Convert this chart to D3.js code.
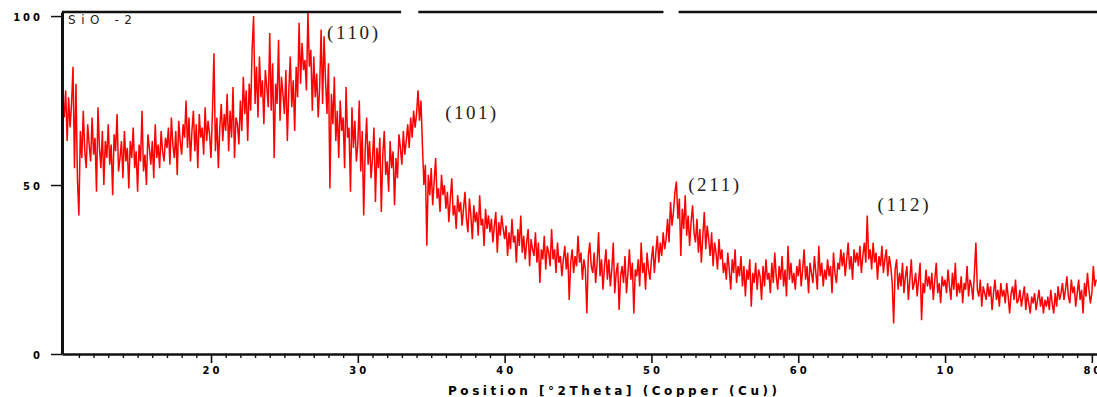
<!DOCTYPE html>
<html>
<head>
<meta charset="utf-8">
<script src="https://cdn.jsdelivr.net/npm/d3@7"></script>
<style>
  body { margin: 0; background: #fff; }
  svg { display: block; }
</style>
</head>
<body>
<svg id="chart" width="1097" height="397"></svg>
<script>
// XRD scan of SiO2 sample: intensity (counts, %) every 0.1 deg 2Theta, starting at 10.0
const startAngle = 10.0;
const stepAngle = 0.1;
const intensity = [
  70, 78, 63, 76, 67, 74, 85, 55, 80, 52,   // 10
  41, 66, 58, 72, 60, 55, 68, 62, 57, 70,   // 11
  59, 64, 48, 73, 61, 55, 66, 50, 63, 58,   // 12
  68, 56, 62, 47, 65, 60, 71, 54, 58, 63,   // 13
  52, 66, 57, 61, 49, 63, 58, 67, 55, 60,   // 14
  48, 62, 57, 72, 54, 59, 50, 65, 61, 56,   // 15
  63, 52, 68, 58, 62, 55, 66, 60, 57, 64,   // 16
  61, 67, 56, 70, 62, 58, 66, 53, 69, 63,   // 17
  59, 68, 64, 75, 61, 70, 57, 66, 72, 60,   // 18
  68, 55, 71, 64, 67, 59, 73, 63, 69, 65,   // 19
  58, 72, 89, 60, 70, 55, 67, 74, 63, 71,   // 20
  66, 77, 60, 72, 64, 79, 58, 70, 68, 62,   // 21
  75, 66, 82, 71, 78, 63, 80, 72, 90, 100,  // 22
  74, 85, 70, 88, 76, 81, 68, 84, 79, 73,   // 23
  95, 72, 86, 58, 80, 74, 93, 69, 82, 77,   // 24
  71, 84, 63, 78, 88, 73, 81, 66, 85, 76,   // 25
  98, 80, 92, 84, 87, 78, 101, 85, 90, 72,  // 26
  88, 76, 83, 70, 79, 96, 74, 94, 81, 71,   // 27
  86, 49, 77, 68, 82, 63, 72, 58, 75, 66,   // 28
  70, 55, 79, 64, 67, 48, 73, 61, 69, 57,   // 29
  62, 75, 54, 66, 41, 60, 70, 56, 63, 52,   // 30
  58, 67, 45, 61, 55, 64, 42, 59, 66, 53,   // 31
  57, 48, 63, 55, 60, 44, 58, 52, 65, 61,   // 32
  56, 66, 59, 63, 68, 61, 70, 64, 72, 67,   // 33
  71, 78, 69, 75, 62, 50, 56, 32, 53, 47,   // 34
  55, 44, 51, 58, 46, 49, 42, 53, 47, 50,   // 35
  43, 48, 39, 46, 52, 41, 44, 37, 47, 42,   // 36
  45, 38, 43, 48, 40, 36, 46, 41, 34, 44,   // 37
  39, 42, 35, 47, 38, 40, 32, 43, 37, 41,   // 38
  36, 40, 33, 38, 42, 30, 39, 35, 41, 37,   // 39
  34, 38, 29, 36, 31, 40, 33, 35, 27, 37,   // 40
  32, 41, 30, 35, 28, 33, 37, 26, 34, 31,   // 41
  29, 36, 27, 33, 21, 31, 28, 35, 25, 32,   // 42
  30, 26, 37, 28, 31, 24, 33, 27, 29, 23,   // 43
  28, 32, 25, 30, 16, 27, 31, 24, 29, 26,   // 44
  35, 27, 30, 22, 28, 25, 12, 29, 33, 26,   // 45
  24, 30, 21, 27, 36, 23, 28, 19, 26, 31,   // 46
  22, 28, 20, 25, 33, 18, 24, 27, 13, 23,   // 47
  26, 21, 29, 18, 24, 31, 22, 27, 12, 25,   // 48
  23, 28, 20, 33, 24, 27, 19, 30, 25, 22,   // 49
  28, 32, 24, 30, 35, 27, 33, 29, 36, 31,   // 50
  34, 40, 33, 45, 38, 42, 48, 51, 40, 46,   // 51
  29, 43, 37, 47, 35, 41, 32, 39, 44, 36,   // 52
  33, 40, 30, 37, 27, 35, 42, 31, 38, 34,   // 53
  29, 36, 26, 33, 30, 25, 34, 28, 31, 24,   // 54
  27, 22, 30, 25, 19, 28, 24, 31, 21, 26,   // 55
  23, 29, 20, 26, 17, 25, 22, 28, 14, 24,   // 56
  21, 27, 19, 25, 23, 16, 26, 20, 28, 22,   // 57
  24, 18, 27, 21, 30, 23, 19, 26, 22, 29,   // 58
  20, 25, 17, 32, 22, 27, 21, 24, 19, 26,   // 59
  23, 28, 20, 25, 31, 22, 26, 18, 27, 24,   // 60
  21, 29, 24, 19, 32, 23, 27, 20, 25, 22,   // 61
  28, 23, 26, 18, 30, 24, 21, 27, 25, 31,   // 62
  26, 30, 23, 28, 33, 25, 29, 22, 31, 27,   // 63
  30, 26, 32, 24, 29, 33, 27, 41, 28, 31,   // 64
  25, 33, 27, 30, 22, 29, 26, 32, 24, 28,   // 65
  31, 23, 29, 26, 21, 9, 25, 28, 19, 24,    // 66
  20, 27, 18, 23, 26, 16, 22, 28, 19, 21,   // 67
  24, 17, 22, 27, 10, 21, 18, 25, 20, 23,   // 68
  19, 24, 16, 22, 27, 18, 21, 15, 23, 20,   // 69
  22, 18, 25, 20, 16, 24, 19, 27, 17, 21,   // 70
  18, 23, 15, 21, 19, 26, 17, 22, 20, 16,   // 71
  24, 33, 19, 17, 22, 14, 20, 18, 16, 21,   // 72
  17, 20, 13, 18, 22, 16, 19, 14, 21, 17,   // 73
  19, 15, 21, 17, 12, 18, 20, 16, 22, 15,   // 74
  16, 19, 14, 17, 20, 13, 18, 15, 12, 17,   // 75
  15, 18, 13, 16, 19, 14, 17, 12, 16, 14,   // 76
  17, 13, 19, 15, 12, 18, 14, 20, 16, 18,   // 77
  21, 16, 19, 23, 17, 15, 22, 18, 20, 14,   // 78
  18, 22, 16, 19, 12, 21, 17, 24, 19, 15,   // 79
  18, 26, 20, 22                            // 80
];
const theta = d3.range(intensity.length).map(i => +(startAngle + i * stepAngle).toFixed(2));

// Axis ticks and annotations
const xMajorTicks = [20, 30, 40, 50, 60, 70, 80];
const xMajorLabels = ["20", "30", "40", "50", "60", "10", "80"];
const xMinorTicks = d3.range(11, 81).filter(v => v % 10 !== 0);
const yTicks = [0, 50, 100];
const peakLabels = ["(110)", "(101)", "(211)", "(112)"];
const peakAngles = [27.9, 35.95, 52.5, 65.4];
const peakLabelLevels = [93.2, 69.6, 48.2, 42.2];
// reference-line gaps in the top frame (deg 2Theta)
const frameGaps = [[32.95, 34.12], [50.82, 51.85]];
const sampleName = "SiO -2";
const xTitle = "Position [\u00b02Theta] (Copper (Cu))";

const svg = d3.select("#chart");
const x = d3.scaleLinear().domain([9.85, 80.35]).range([62, 1097]);
const y = d3.scaleLinear().domain([0, 101.2]).range([354, 12]);

const tickFont = g => g
  .attr("font-family", "'DejaVu Sans', sans-serif")
  .attr("font-weight", "bold")
  .attr("font-size", 10)
  .attr("fill", "#000");

// Data trace
svg.append("path")
  .datum(intensity)
  .attr("fill", "none")
  .attr("stroke", "#ff0000")
  .attr("stroke-width", 1.5)
  .attr("stroke-linejoin", "miter")
  .attr("d", d3.line().x((d, i) => x(theta[i])).y(d => y(d)));

// Top frame line with gaps
const [x0, x1] = x.domain();
const edges = [x0, ...frameGaps.flat(), x1];
const segs = d3.range(0, edges.length, 2).map(i => [edges[i], edges[i + 1]]);
svg.append("g").selectAll("line")
  .data(segs)
  .join("line")
  .attr("x1", d => x(d[0])).attr("x2", d => x(d[1]))
  .attr("y1", y(101.2)).attr("y2", y(101.2))
  .attr("stroke", "#111").attr("stroke-width", 2.5);

// Bottom axis: minor ticks
const gxMinor = svg.append("g").attr("transform", `translate(0,${y(0)})`)
  .call(d3.axisBottom(x).tickValues(xMinorTicks).tickSize(4).tickSizeOuter(0).tickFormat(""));
gxMinor.select(".domain").remove();
gxMinor.selectAll(".tick line").attr("stroke", "#111").attr("stroke-width", 1.4);

// Bottom axis: major ticks + labels
const gx = svg.append("g").attr("transform", `translate(0,${y(0)})`)
  .call(d3.axisBottom(x).tickValues(xMajorTicks).tickSize(9).tickSizeOuter(0).tickPadding(4)
    .tickFormat((d, i) => xMajorLabels[i]));
gx.call(tickFont);
gx.select(".domain").attr("stroke", "#111").attr("stroke-width", 2.6);
gx.selectAll(".tick line").attr("stroke", "#111").attr("stroke-width", 1.6);
gx.selectAll(".tick text").attr("letter-spacing", 3).attr("dx", 1);

// Left axis
const gy = svg.append("g").attr("transform", `translate(${x(x0)},0)`)
  .call(d3.axisLeft(y).tickValues(yTicks).tickSize(11).tickSizeOuter(0).tickPadding(8));
gy.call(tickFont);
gy.select(".domain").attr("stroke", "#111").attr("stroke-width", 3);
gy.selectAll(".tick line").attr("stroke", "#111").attr("stroke-width", 1.5);
gy.selectAll(".tick text").attr("letter-spacing", 3).attr("dy", "0.45em");

// Sample name
svg.append("text")
  .attr("x", 68).attr("y", 24)
  .attr("font-family", "'DejaVu Sans', sans-serif")
  .attr("font-size", 12)
  .attr("fill", "#222")
  .attr("textLength", 64).attr("lengthAdjust", "spacing")
  .text(sampleName);

// Axis title
svg.append("text")
  .attr("x", 448).attr("y", 395)
  .attr("font-family", "'DejaVu Sans', sans-serif")
  .attr("font-weight", "bold")
  .attr("font-size", 12)
  .attr("fill", "#000")
  .attr("textLength", 329).attr("lengthAdjust", "spacing")
  .text(xTitle);

// Reflection labels
svg.append("g").selectAll("text")
  .data(peakLabels)
  .join("text")
  .attr("x", (d, i) => x(peakAngles[i]))
  .attr("y", (d, i) => y(peakLabelLevels[i]))
  .attr("font-family", "'Liberation Serif', 'Times New Roman', serif")
  .attr("font-size", 19)
  .attr("fill", "#222")
  .attr("textLength", 51).attr("lengthAdjust", "spacing")
  .text(d => d);
</script>
</body>
</html>
